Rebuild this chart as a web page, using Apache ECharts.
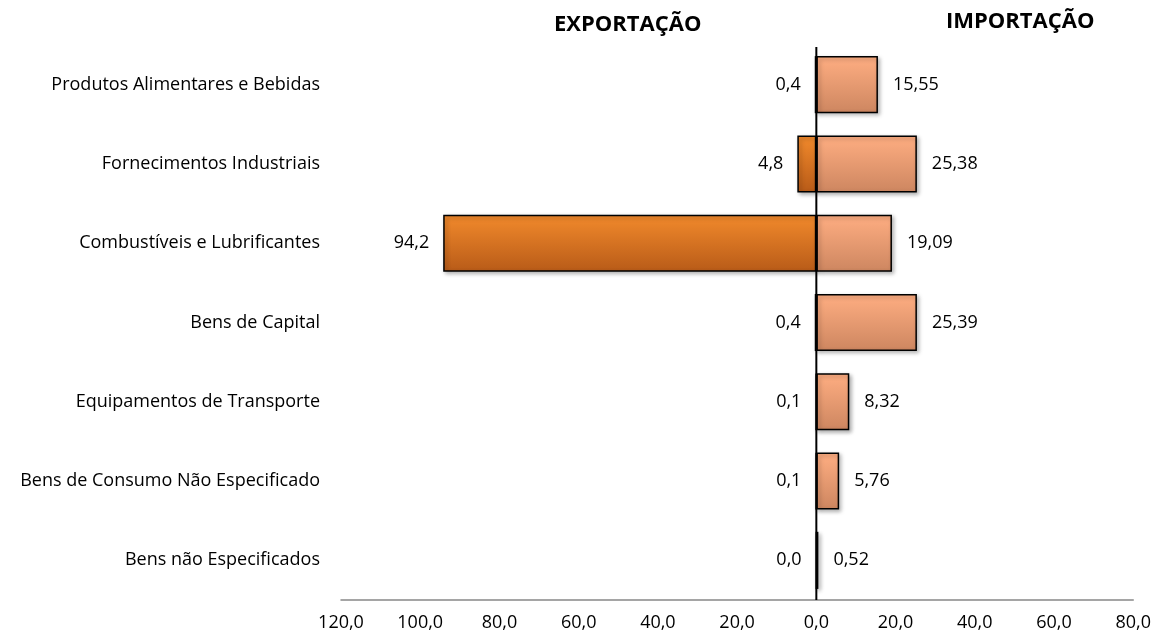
<!DOCTYPE html>
<html>
<head>
<meta charset="utf-8">
<script src="https://cdn.jsdelivr.net/npm/echarts@6/dist/echarts.min.js"></script>
<style>
  html, body { margin: 0; padding: 0; background: #fff; }
  #chart { width: 1154px; height: 635px; }
</style>
</head>
<body>
<div id="chart"></div>
<script>
const categories = [
  'Produtos Alimentares e Bebidas',
  'Fornecimentos Industriais',
  'Combustíveis e Lubrificantes',
  'Bens de Capital',
  'Equipamentos de Transporte',
  'Bens de Consumo Não Especificado',
  'Bens não Especificados'
];
// valores em percentagem
const exportacao = [0.4, 4.8, 94.2, 0.4, 0.1, 0.1, 0.0];
const importacao = [15.55, 25.38, 19.09, 25.39, 8.32, 5.76, 0.52];
const xTicks = { min: -120, max: 80, interval: 20 };

const fmt = (v, d) => Math.abs(v).toFixed(d).replace('.', ',');
const font = '"Open Sans", sans-serif';
const gridTop = 45, gridBottom = 35;

const chart = echarts.init(document.getElementById('chart'));

const barShadow = {
  shadowBlur: 4,
  shadowColor: 'rgba(0,0,0,0.3)',
  shadowOffsetX: 2,
  shadowOffsetY: 2
};

chart.setOption({
  animation: false,
  textStyle: { fontFamily: font },
  grid: { left: 341, right: 19, top: gridTop, bottom: gridBottom, containLabel: false },
  graphic: [
    { id: 'tExp', type: 'text', left: 554, top: 14, style: { text: 'EXPORTAÇÃO', font: 'bold 22px ' + font, fill: '#000' } },
    { id: 'tImp', type: 'text', left: 946, top: 11, style: { text: 'IMPORTAÇÃO', font: 'bold 22px ' + font, fill: '#000' } }
  ],
  xAxis: {
    type: 'value',
    min: xTicks.min,
    max: xTicks.max,
    interval: xTicks.interval,
    splitLine: { show: false },
    axisTick: { show: false },
    axisLine: { show: true, onZero: false, lineStyle: { color: '#888', width: 1.5 } },
    axisLabel: {
      color: '#000',
      fontSize: 18,
      margin: 14,
      formatter: v => fmt(v, 1)
    }
  },
  yAxis: {
    type: 'category',
    data: categories,
    inverse: true,
    axisLine: { show: false },
    axisTick: { show: false },
    axisLabel: { color: '#000', fontSize: 18, margin: 21 }
  },
  series: [
    {
      name: 'Exportação',
      type: 'bar',
      stack: 'total',
      barCategoryGap: '28%',
      data: exportacao.map(v => -v),
      itemStyle: Object.assign({
        color: new echarts.graphic.LinearGradient(0, 0, 0, 1, [
          { offset: 0, color: '#f28a2c' },
          { offset: 1, color: '#b85b18' }
        ]),
        borderColor: '#000',
        borderWidth: 1.5
      }, barShadow),
      label: {
        show: true,
        position: 'left',
        distance: 14,
        color: '#000',
        fontSize: 18,
        formatter: p => fmt(p.value, 1)
      }
    },
    {
      name: 'Importação',
      type: 'bar',
      stack: 'total',
      data: importacao,
      itemStyle: Object.assign({
        color: new echarts.graphic.LinearGradient(0, 0, 0, 1, [
          { offset: 0, color: '#ffae82' },
          { offset: 1, color: '#cd8660' }
        ]),
        borderColor: '#000',
        borderWidth: 1.5
      }, barShadow),
      label: {
        show: true,
        position: 'right',
        distance: 15,
        color: '#000',
        fontSize: 18,
        formatter: p => fmt(p.value, 2)
      }
    }
  ]
});

// linha vertical do zero, por cima das barras
const x0 = chart.convertToPixel({ xAxisIndex: 0 }, 0);
chart.setOption({
  graphic: [
    {
      id: 'zeroLine',
      type: 'line',
      z: 100,
      shape: { x1: x0, y1: gridTop + 2, x2: x0, y2: chart.getHeight() - gridBottom },
      style: { stroke: '#000', lineWidth: 2 }
    }
  ]
});
</script>
</body>
</html>
